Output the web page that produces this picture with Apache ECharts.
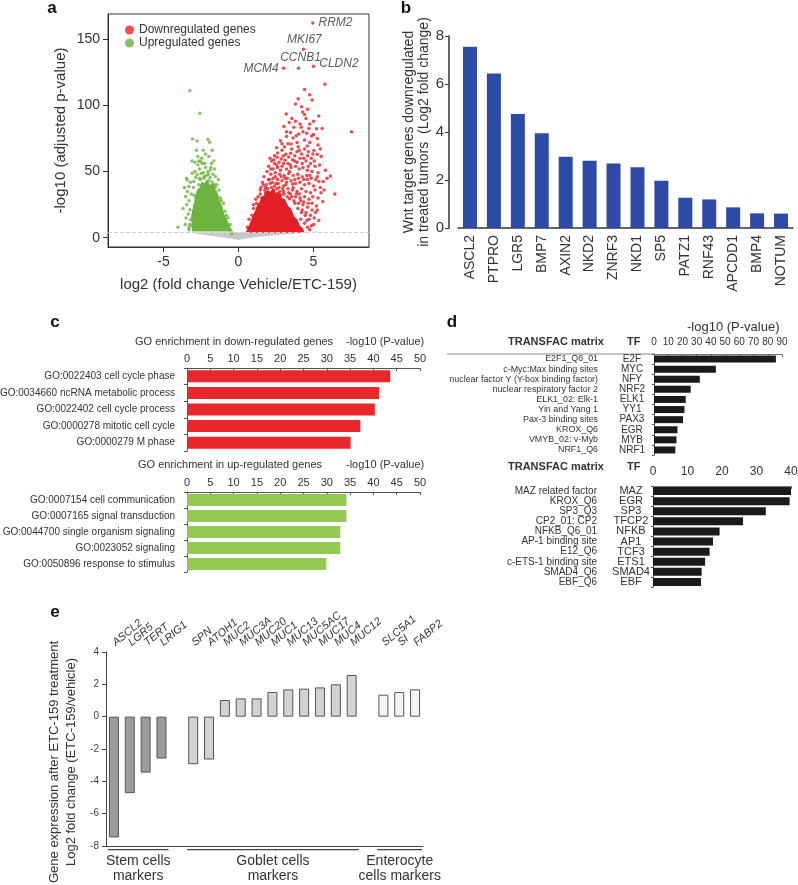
<!DOCTYPE html>
<html><head><meta charset="utf-8">
<script src="https://cdn.jsdelivr.net/npm/echarts@6.0.0/dist/echarts.min.js"></script>
<style>html,body{margin:0;padding:0;background:#fff}#c{width:798px;height:885px}</style>
</head><body><div id="c"></div>
<script>
// ---------- Panel a: volcano plot ----------
const volcanoXTicks = [-5, 0, 5];
const volcanoYTicks = [0, 50, 100, 150];
const volcanoThreshold = 3.8;
const nsRegion = [[-3.3,4],[4.8,4],[3,2.5],[1.5,1],[0.5,-0.5],[0,-1.8],[-0.5,-0.5],[-1.5,1],[-2.5,2.5]];
const upCore = [[-3.09,4.8],[-3.16,16.1],[-3.05,22],[-2.98,26.1],[-2.85,32],[-2.76,36.2],[-2.6,38],[-2.47,42.4],[-2.3,41],[-2.09,44.2],[-1.9,40],[-1.64,41.2],[-1.55,36],[-1.38,33.6],[-1.25,28],[-1.09,23.6],[-0.95,18],[-0.76,13.5],[-0.55,8],[-0.36,4.8]];
const downCore = [[0.47,3.8],[0.8,12],[0.95,17],[1.1,20],[1.25,25],[1.4,27],[1.55,31],[1.7,32],[1.9,36],[2.1,35],[2.3,37],[2.5,34],[2.7,35],[2.9,30],[3.1,29],[3.3,24],[3.5,22],[3.7,16],[3.9,14],[4.1,9],[4.3,7],[4.4,3.8]];
const upPoints = [[-3.24,111],[-2.58,94],[-3.07,74.6],[-2.76,73.1],[-2.04,74.4],[-1.93,72.1],[-2.71,61.3],[-2.53,57.5],[-2.2,63.3],[-1.98,61.3],[-2.42,56.3],[-1.87,51.2],[-2.2,53],[-2.6,52],[-2.9,50],[-2.35,49],[-1.7,48],[-2.05,50],[-3.42,43.7],[-3.31,38.7],[-3.09,48.7],[-3.47,45],[-3.53,31.1],[-3.24,21.1],[-3.2,13.5],[-4.04,8],[-2.98,42.4],[-2.76,47.5],[-1.53,46.2],[-1.45,40],[-1.3,36],[-1.2,30],[-1.0,26],[-0.9,20],[-0.7,15],[-0.55,10],[-3.3,28],[-3.4,35],[-3.15,33],[-3.0,20],[-3.35,18],[-3.45,25],[-2.85,12],[-3.1,9],[-3.3,6],[-2.7,55],[-2.45,60],[-1.8,56],[-1.6,52],[-2.9,57],[-3.0,38],[-1.35,44],[-2.3,46],[-1.9,45.5],[-2.6,45],[-1.55,38],[-1.15,28],[-0.8,17],[-3.25,10],[-2.95,32],
[-3.3,8],[-3.0,15],[-2.95,24],[-2.85,30],[-2.7,34],[-2.65,40],[-2.55,44],[-2.3,45],[-2.15,47],[-1.95,43],[-1.75,42],[-1.55,35],[-1.45,30],[-1.25,25],[-1.1,19],[-0.95,14],[-0.8,9],[-0.6,6],[-0.45,3],[-2.0,48],[-2.5,48.5],[-1.85,53],[-2.25,56],[-2.65,58],[-1.65,58],[-2.35,66],[-2.8,66],[-1.75,66],[-3.1,58],[-3.6,38],[-3.7,22],[-3.5,15],[-3.55,10],[-2.4,40.5],[-2.1,38],[-1.6,40],[-3.2,42],[-2.85,45.5]];
const downPoints = [[5.76,116],[4.4,112],[3.98,105],[4.91,104],[4.2,99],[4.27,95],[3.18,93.4],[4.4,93],[3.38,87],[3.69,83.4],[4.18,83.4],[4.69,82.6],[5.2,82.4],[5.58,82.6],[3.02,84],[7.53,80],[3.47,79.4],[4.02,78.4],[4.87,76.9],[4.4,73.9],[3.64,75.4],[3.2,76.4],[2.8,73.3],[3.07,68.8],[3.51,70.8],[3.98,68.8],[4.58,69.3],[5.02,65.8],[4.2,63.3],[3.47,63.8],[2.98,61.8],[2.58,60.8],[4.96,63.3],[5.51,61.3],
[2.2,58],[2.4,56],[2.7,57],[3.1,58.5],[3.3,56],[3.6,59],[3.9,57],[4.1,60],[4.5,58],[4.8,56],[5.1,54],[5.4,55],[2.0,54],[2.3,52],[2.6,53],[2.9,54],[3.2,52],[3.5,53],[3.8,54],[4.05,52],[4.3,53],[4.6,51],[4.9,50],[5.3,49],[5.8,51],[6.13,46.7],[1.9,50],[2.15,48],[2.45,49],[2.75,48],[3.05,47],[3.35,48.5],[3.65,47],[3.95,48],[4.25,46],[4.55,47],[4.85,45],[5.15,44],[5.36,42.4],[5.64,42.4],[1.7,46],[2.0,44],[2.3,45],[2.6,44],[2.9,43],[3.2,42],[3.5,43],[3.8,41],[4.1,42],[4.4,40],[4.7,41],[5.0,39],[1.6,42],[1.85,40],[2.1,41],[2.4,39],[2.7,38],[3.0,39],[3.3,37],[3.6,36],[3.9,35],[4.2,37],[4.5,35],[4.8,34],[5.1,36],[6.42,33.1],[1.5,38],[1.75,36],[3.8,31],[4.1,30],[4.4,31],[4.7,29],[5.62,27.4],[4.0,26],[4.3,25],[4.6,23],[4.9,21],[5.13,19.1],[4.2,19],[4.45,17],[4.7,14],[4.4,11],[4.6,8],[4.75,6],[5.0,10],[1.3,31],[1.2,26],[1.0,22],[3.6,40.5],[3.0,35],[2.85,32.5],[3.45,33],[5.3,30],[5.5,34],[4.9,26],[5.2,24],[3.15,63],[3.9,65],[4.6,62],[2.4,62],[2.1,60],
[2.9,66],[3.3,71],[4.4,67],[4.75,72],[3.9,72],[5.3,70],[5.0,78],[4.3,80],[2.55,68],[3.8,88],[4.5,90],[5.0,88],[3.7,28],[3.4,29.5],[3.95,22],[4.15,14],[3.85,12],[2.2,38],[1.45,33],[2.5,41],[3.1,45],[4.0,45],[4.6,44],[3.4,50],[2.8,51],[1.8,38],
[0.6,8],[0.7,14],[0.9,17],[1.0,25],[1.15,29],[1.3,22],[1.45,36],[1.55,30],[1.65,40],[1.8,34],[1.95,37],[2.05,44],[2.25,42],[2.35,36],[2.55,37],[2.65,41],[2.75,35],[2.95,37],[3.05,33],[3.15,40],[3.25,31],[3.35,34],[3.55,31],[3.65,38],[3.75,26],[3.85,33],[4.05,33],[4.15,28],[4.25,21],[4.35,27],[4.5,19],[4.55,13],[4.65,26],[4.8,17],[4.85,9],[5.05,15],[5.25,21],[5.35,13],[4.95,31],[5.45,38],[5.7,36],[5.9,45],[2.45,46],[2.85,46],[3.25,45],[3.75,44],[4.35,44],[4.75,47],[5.25,46],[2.15,52],[2.55,55],[3.45,55],[3.75,58],[4.25,56],[4.65,54],[5.05,58],[3.0,56],[2.35,59],[2.85,59.5],[3.35,61],[4.35,60],[4.85,60],[5.25,63],[3.75,62],[4.05,66],[3.55,67],[4.65,65],[5.45,67],[3.2,80],[2.6,64],[2.9,71],[3.85,77],[4.55,79],[5.25,75],[4.1,86],[3.55,90],[4.75,86],[5.35,92],[4.6,97],[3.8,101],[4.75,108]];
const labeledGenes = ['RRM2', 'MKI67', 'CCNB1', 'CLDN2', 'MCM4'];
const labeledLog2FC = [4.95, 4.33, 4.0, 5.0, 3.0];
const labeledNegLogP = [162.2, 142.4, 128, 129.6, 128];

// ---------- Panel b ----------
const wntGenes = ['ASCL2','PTPRO','LGR5','BMP7','AXIN2','NKD2','ZNRF3','NKD1','SP5','PATZ1','RNF43','APCDD1','BMP4','NOTUM'];
const wntLog2FC = [7.55, 6.44, 4.75, 3.95, 2.97, 2.8, 2.69, 2.53, 1.97, 1.26, 1.19, 0.86, 0.61, 0.6];

// ---------- Panel c ----------
const goDownTerms = ['GO:0022403 cell cycle phase','GO:0034660 ncRNA metabolic process','GO:0022402 cell cycle process','GO:0000278 mitotic cell cycle','GO:0000279 M phase'];
const goDownValues = [43.6, 41.2, 40.3, 37.2, 35.1];
const goUpTerms = ['GO:0007154 cell communication','GO:0007165 signal transduction','GO:0044700 single organism signaling','GO:0023052 signaling','GO:0050896 response to stimulus'];
const goUpValues = [34.2, 34.2, 32.9, 32.9, 29.9];

// ---------- Panel d ----------
const tfDownMatrix = ['E2F1_Q6_01','c-Myc:Max binding sites','nuclear factor Y (Y-box binding factor)','nuclear respiratory factor 2','ELK1_02: Elk-1','Yin and Yang 1','Pax-3 binding sites','KROX_Q6','VMYB_02: v-Myb','NRF1_Q6'];
const tfDownTF = ['E2F','MYC','NFY','NRF2','ELK1','YY1','PAX3','EGR','MYB','NRF1'];
const tfDownValues = [85.7, 43.5, 32.2, 25.8, 22.3, 21.4, 20.4, 16.5, 15.8, 15.0];
const tfUpMatrix = ['MAZ related factor','KROX_Q6','SP3_Q3','CP2_01: CP2','NFKB_Q6_01','AP-1 binding site','E12_Q6','c-ETS-1 binding site','SMAD4_Q6','EBF_Q6'];
const tfUpTF = ['MAZ','EGR','SP3','TFCP2','NFKB','AP1','TCF3','ETS1','SMAD4','EBF'];
const tfUpValues = [40.0, 39.6, 32.7, 26.1, 19.3, 17.4, 16.4, 15.1, 14.1, 13.9];

// ---------- Panel e ----------
const stemGenes = ['ASCL2','LGR5','TERT','LRIG1'];
const stemValues = [-7.47, -4.73, -3.46, -2.59];
const gobletGenes = ['SPN','ATOH1','MUC2','MUC3A','MUC20','MUC1','MUC13','MUC5AC','MUC17','MUC4','MUC12'];
const gobletValues = [-2.94, -2.65, 1.03, 1.13, 1.13, 1.53, 1.69, 1.73, 1.81, 2.0, 2.58];
const enteroGenes = ['SLC5A1','SI','FABP2'];
const enteroValues = [1.36, 1.53, 1.69];
const groupNames = ['Stem cells\nmarkers', 'Goblet cells\nmarkers', 'Enterocyte\ncells markers'];

// ---------- styling ----------
const FONT = "'Liberation Sans', Arial, sans-serif";
const TXT = '#333';
const RED = '#e41f26', GREEN = '#6cb33f';
const labelStyle = {
  RRM2: {position:'right', distance:4},
  MKI67: {position:'top', distance:2, offset:[1,0]},
  CCNB1: {position:'top', distance:3, offset:[2,0]},
  CLDN2: {position:'right', distance:4, offset:[0,-3]},
  MCM4: {position:'left', distance:3}
};

function polyRender(points, color) {
  return function (params, api) {
    return {type:'polygon', shape:{points: points.map(p => api.coord(p))}, style:{fill: color}, silent:true};
  };
}

const eCats = [...stemGenes, ' ', ...gobletGenes, '  ', ...enteroGenes];
const eData = [
  ...stemValues.map(v => ({value:v, itemStyle:{color:'#9b9b9b'}})),
  '-',
  ...gobletValues.map(v => ({value:v, itemStyle:{color:'#d2d2d2'}})),
  '-',
  ...enteroValues.map(v => ({value:v, itemStyle:{color:'#f3f3f3'}}))
];

const catAxisY = (gi, data, extra) => Object.assign({
  gridIndex: gi, type:'category', data: data, inverse:true, position:'left',
  axisLine:{show:true, lineStyle:{color:'#555'}},
  axisTick:{show:true, length:3, lineStyle:{color:'#555'}},
  axisLabel:{fontSize:10, color:TXT, interval:0, margin:12},
  splitLine:{show:false}
}, extra || {});

const G = (o) => Object.assign({outerBoundsMode:'none', containLabel:false}, o);

const option = {
  animation:false,
  textStyle:{fontFamily:FONT},
  legend:{
    data:[{name:'Downregulated genes', icon:'circle'},{name:'Upregulated genes', icon:'circle'}],
    orient:'vertical', left:120, top:19, itemWidth:9, itemHeight:9, itemGap:1,
    textStyle:{fontSize:12, color:TXT, fontFamily:FONT}, selectedMode:false
  },
  grid:[
    G({left:108, top:14, width:261, height:233, show:true, borderColor:'#333', borderWidth:1}),
    G({left:458, top:36, width:335, height:192}),
    G({left:187, top:368, width:233, height:83}),
    G({left:187, top:492, width:233, height:80}),
    G({left:654, top:354, width:128, height:101}),
    G({left:653, top:486, width:138, height:101}),
    G({left:106, top:652, width:317, height:194})
  ],
  xAxis:[
    {gridIndex:0, type:'value', min:-8.7, max:8.7, splitLine:{show:false},
     axisLine:{show:true, onZero:false, lineStyle:{color:'#333'}},
     axisTick:{show:true, customValues:volcanoXTicks, length:5, lineStyle:{color:'#333'}},
     axisLabel:{customValues:volcanoXTicks, fontSize:14, color:TXT, margin:8},
     name:'log2 (fold change Vehicle/ETC-159)', nameLocation:'middle', nameGap:30,
     nameTextStyle:{fontSize:15, color:TXT}},
    {gridIndex:1, type:'category', data:wntGenes,
     axisLine:{show:true, lineStyle:{color:'#333', width:1.5}}, axisTick:{show:false},
     axisLabel:{rotate:90, fontSize:14, color:TXT, interval:0, margin:7}},
    {gridIndex:2, type:'value', position:'top', min:0, max:50, interval:5, splitLine:{show:false},
     axisLine:{show:true, lineStyle:{color:'#555'}}, axisTick:{show:true, inside:true, length:3, lineStyle:{color:'#555'}},
     axisLabel:{fontSize:11, color:TXT, margin:4}},
    {gridIndex:3, type:'value', position:'top', min:0, max:50, interval:5, splitLine:{show:false},
     axisLine:{show:true, lineStyle:{color:'#555'}}, axisTick:{show:true, inside:true, length:3, lineStyle:{color:'#555'}},
     axisLabel:{fontSize:11, color:TXT, margin:4}},
    {gridIndex:4, type:'value', position:'top', min:0, max:90, interval:10, splitLine:{show:false},
     axisLine:{show:true, lineStyle:{color:'#777'}}, axisTick:{show:true, inside:true, length:3, lineStyle:{color:'#777'}},
     axisLabel:{fontSize:10, color:TXT, margin:7}},
    {gridIndex:5, type:'value', position:'top', min:0, max:40, interval:10, splitLine:{show:false},
     axisLine:{show:true, lineStyle:{color:'#777'}}, axisTick:{show:true, inside:true, length:3, lineStyle:{color:'#777'}},
     axisLabel:{fontSize:12, color:TXT, margin:8}},
    {gridIndex:6, type:'category', data:eCats, position:'top',
     axisLine:{show:false}, axisTick:{show:false},
     axisLabel:{rotate:40, fontSize:11, fontStyle:'italic', color:TXT, interval:0, margin:8}},
    {gridIndex:6, type:'category', data:eCats, position:'bottom',
     axisLine:{show:true, onZero:true, lineStyle:{color:'#444'}}, axisTick:{show:false}, axisLabel:{show:false}}
  ],
  yAxis:[
    {gridIndex:0, type:'value', min:-7, max:169, splitLine:{show:false},
     axisLine:{show:true, onZero:false, lineStyle:{color:'#333'}},
     axisTick:{show:true, customValues:volcanoYTicks, length:5, lineStyle:{color:'#333'}},
     axisLabel:{customValues:volcanoYTicks, fontSize:14, color:TXT, margin:8},
     name:'-log10 (adjusted p-value)', nameLocation:'middle', nameGap:40,
     nameTextStyle:{fontSize:15, color:TXT}},
    {gridIndex:1, type:'value', min:0, max:8, interval:2, offset:9, splitLine:{show:false},
     axisLine:{show:true, lineStyle:{color:'#333', width:1.5}}, axisTick:{show:true, length:4, lineStyle:{color:'#333'}},
     axisLabel:{fontSize:15, color:TXT, margin:5},
     name:'Wnt target genes downregulated\nin treated tumors  (Log2 fold change)', nameLocation:'middle', nameGap:17,
     nameTextStyle:{fontSize:14, color:TXT, lineHeight:15}},
    catAxisY(2, goDownTerms),
    catAxisY(3, goUpTerms),
    catAxisY(4, tfDownTF, {axisLabel:{fontSize:10, color:TXT, interval:0, margin:22, align:'center'}, axisTick:{show:true, length:2, lineStyle:{color:'#555'}}}),
    catAxisY(4, tfDownMatrix, {offset:48, axisLine:{show:false}, axisTick:{show:false}, axisLabel:{fontSize:8.9, color:TXT, interval:0, margin:8}}),
    catAxisY(5, tfUpTF, {axisLabel:{fontSize:11, color:TXT, interval:0, margin:22, align:'center'}, axisTick:{show:true, length:2, lineStyle:{color:'#555'}}}),
    catAxisY(5, tfUpMatrix, {offset:48, axisLine:{show:false}, axisTick:{show:false}, axisLabel:{fontSize:10, color:TXT, interval:0, margin:8}}),
    {gridIndex:6, type:'value', min:-8, max:4, interval:2, splitLine:{show:false},
     axisLine:{show:true, lineStyle:{color:'#444'}}, axisTick:{show:true, length:4, lineStyle:{color:'#444'}},
     axisLabel:{fontSize:10, color:'#444', margin:7}}
  ],
  series:[
    {type:'custom', name:'ns', xAxisIndex:0, yAxisIndex:0, data:[[0,0]], renderItem:polyRender(nsRegion,'#c8c8c8'), silent:true, z:1},
    {type:'custom', name:'upCore', xAxisIndex:0, yAxisIndex:0, data:[[0,0]], renderItem:polyRender(upCore,GREEN), silent:true, z:3},
    {type:'custom', name:'downCore', xAxisIndex:0, yAxisIndex:0, data:[[0,0]], renderItem:polyRender(downCore,RED), silent:true, z:3},
    {type:'scatter', name:'Downregulated genes', xAxisIndex:0, yAxisIndex:0, data:downPoints, symbolSize:3.5,
     itemStyle:{color:RED}, z:4, silent:true,
     markLine:{silent:true, symbol:'none', label:{show:false}, lineStyle:{color:'#cfcfcf', type:'dashed', width:1},
       data:[{yAxis:volcanoThreshold}]}},
    {type:'scatter', name:'Upregulated genes', xAxisIndex:0, yAxisIndex:0, data:upPoints, symbolSize:3.5,
     itemStyle:{color:GREEN}, z:4, silent:true},
    {type:'scatter', name:'labeled', xAxisIndex:0, yAxisIndex:0, symbolSize:3.5, itemStyle:{color:RED}, z:5, silent:true,
     data: labeledGenes.map((g,i) => ({name:g, value:[labeledLog2FC[i], labeledNegLogP[i]],
       label:Object.assign({show:true, formatter:'{b}', fontSize:12, fontStyle:'italic', color:TXT}, labelStyle[g])}))},
    {type:'bar', xAxisIndex:1, yAxisIndex:1, data:wntLog2FC, barWidth:14, itemStyle:{color:'#2d4aa6'}, silent:true},
    {type:'bar', xAxisIndex:2, yAxisIndex:2, data:goDownValues, barWidth:12, itemStyle:{color:'#e8272c'}, silent:true},
    {type:'bar', xAxisIndex:3, yAxisIndex:3, data:goUpValues, barWidth:12, itemStyle:{color:'#93c852'}, silent:true},
    {type:'bar', xAxisIndex:4, yAxisIndex:4, data:tfDownValues, barWidth:7, itemStyle:{color:'#1a1a1a'}, silent:true},
    {type:'bar', xAxisIndex:5, yAxisIndex:6, data:tfUpValues, barWidth:8, itemStyle:{color:'#1a1a1a'}, silent:true},
    {type:'bar', xAxisIndex:6, yAxisIndex:8, data:eData, barWidth:10, itemStyle:{borderColor:'#555', borderWidth:1}, silent:true}
  ]
};

const chart = echarts.init(document.getElementById('c'), null, {renderer:'canvas'});
chart.setOption(option);

// annotations (panel letters, titles, group brackets)
const panelLetter = (t, x, y) => ({type:'text', x:x, y:y, style:{text:t, fontSize:17, fontWeight:'bold', fill:'#111', fontFamily:FONT, align:'center', verticalAlign:'middle'}});
const txt = (t, x, y, o) => ({type:'text', x:x, y:y, style:Object.assign({text:t, fontSize:11, fill:TXT, fontFamily:FONT, align:'left', verticalAlign:'middle'}, o||{})});

const groups = [[stemGenes[0], stemGenes[stemGenes.length-1]], [gobletGenes[0], gobletGenes[gobletGenes.length-1]], [enteroGenes[0], enteroGenes[enteroGenes.length-1]]];
const yBracket = chart.convertToPixel({yAxisIndex:8}, -8.23);
const bracketEls = [];
groups.forEach((g, i) => {
  const x1 = chart.convertToPixel({xAxisIndex:6}, g[0]) - 6;
  const x2 = chart.convertToPixel({xAxisIndex:6}, g[1]) + 7;
  bracketEls.push({type:'line', shape:{x1:x1, y1:yBracket, x2:x2, y2:yBracket}, style:{stroke:'#444', lineWidth:1.2}});
  bracketEls.push({type:'text', x:(x1+x2)/2, y:yBracket+19, style:{text:groupNames[i], fontSize:14, lineHeight:15, fill:TXT, fontFamily:FONT, align:'center', verticalAlign:'middle'}});
});

chart.setOption({graphic:[
  panelLetter('a', 52, 8), panelLetter('b', 406, 8), panelLetter('c', 55, 322), panelLetter('d', 452, 322), panelLetter('e', 55, 612),
  txt('GO enrichment in down-regulated genes', 135, 342),
  txt('-log10 (P-value)', 346, 342),
  txt('GO enrichment in up-regulated genes', 138, 465),
  txt('-log10 (P-value)', 346, 465),
  txt('-log10 (P-value)', 687, 327, {fontSize:13}),
  txt('TRANSFAC matrix', 508, 342, {fontWeight:'bold', fontSize:11}),
  txt('TF', 627, 342, {fontWeight:'bold', fontSize:11}),
  txt('TRANSFAC matrix', 508, 467, {fontWeight:'bold', fontSize:11}),
  txt('TF', 627, 467, {fontWeight:'bold', fontSize:11}),
  {type:'line', shape:{x1:447, y1:354, x2:654, y2:354}, style:{stroke:'#888', lineWidth:1}},
  {type:'text', x:63, y:762, rotation:Math.PI/2, style:{text:'Gene expression after ETC-159 treatment\nLog2 fold change (ETC-159/vehicle)', fontSize:13, lineHeight:17, fill:TXT, fontFamily:FONT, align:'center', verticalAlign:'middle'}},
  ...bracketEls
]});
</script></body></html>
